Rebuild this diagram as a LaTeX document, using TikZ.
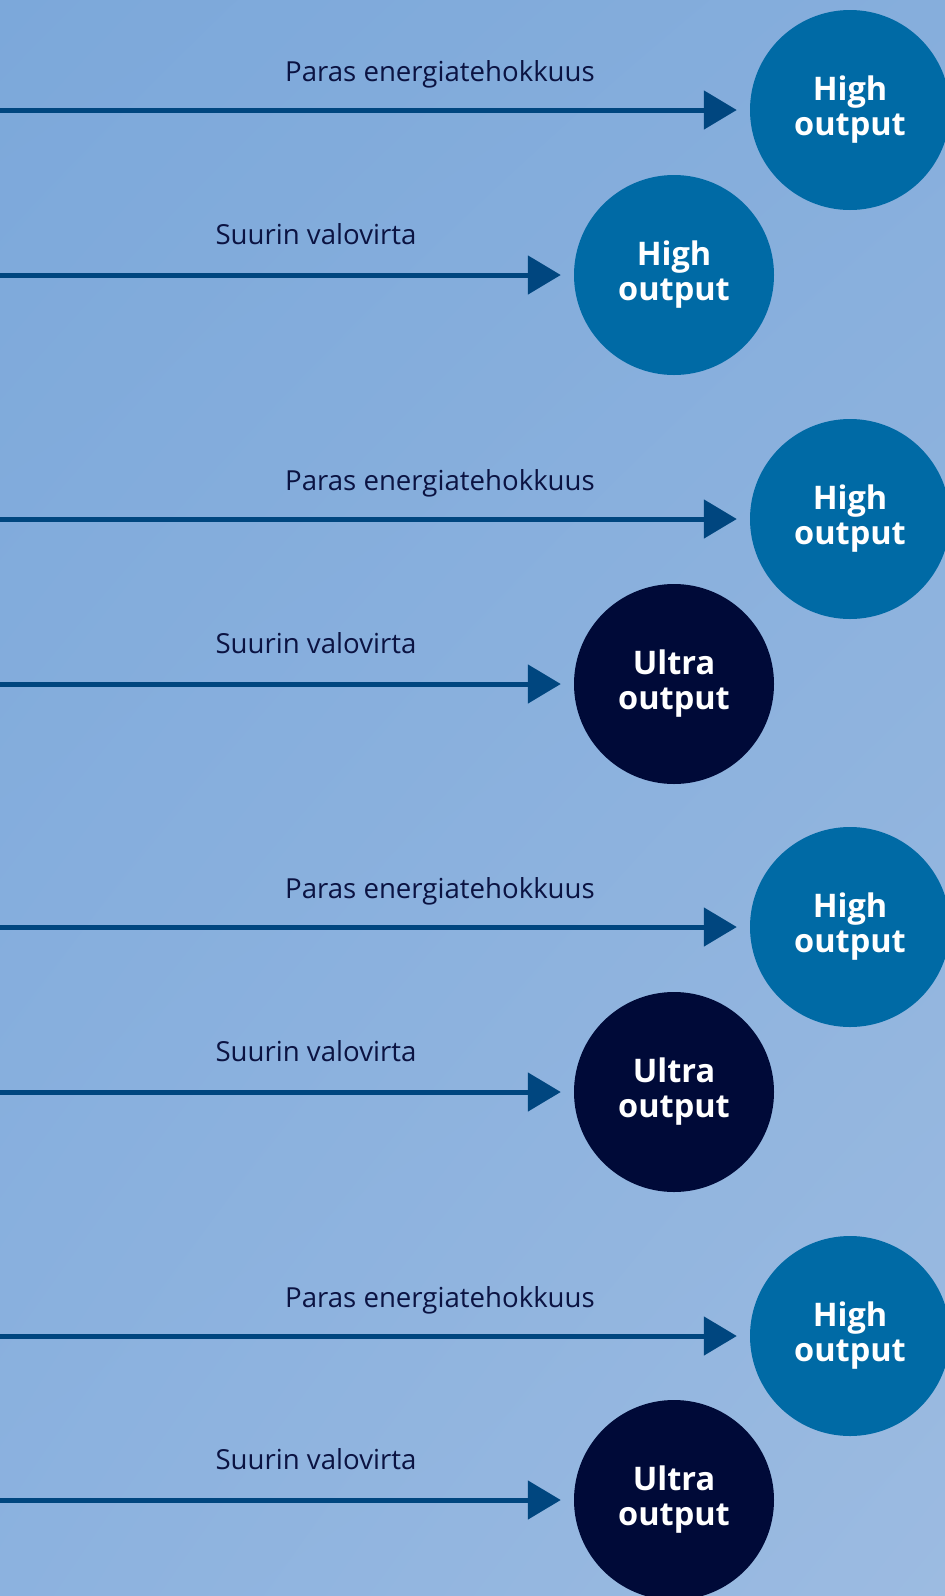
\documentclass[tikz,border=0pt]{standalone}
\usepackage{fontspec}
\setmainfont{Open Sans}
\usepackage{tikz}
\usetikzlibrary{arrows.meta,positioning,shadings}
\definecolor{bgtopleft}{HTML}{7CA8DA}
\definecolor{bgtopright}{HTML}{86AEDC}
\definecolor{bgbottomleft}{HTML}{8CB2DF}
\definecolor{bgbottomright}{HTML}{9CBBE1}
\definecolor{highcolor}{HTML}{006AA5}
\definecolor{ultracolor}{HTML}{000A38}
\definecolor{arrowcolor}{HTML}{00467F}
\definecolor{labelcolor}{HTML}{0B1342}

\begin{document}
\begin{tikzpicture}[x=1pt, y=-1pt,
    every node/.style={font=\fontsize{27.6}{32}\selectfont},
    outputdisc/.style={circle, minimum size=200pt, inner sep=0pt, text=white, align=center,
      font=\bfseries\fontsize{32.5}{35}\selectfont},
    high/.style={outputdisc, fill=highcolor},
    ultra/.style={outputdisc, fill=ultracolor},
    flow/.style={line width=5pt, draw=arrowcolor, -{Triangle[length=33pt,width=38pt]}, shorten >=13pt},
    lbl/.style={anchor=base, text=labelcolor}]
  % Background
  \useasboundingbox (0,0) rectangle (945,1596);
  \shade[upper left=bgtopleft, upper right=bgtopright, lower left=bgbottomleft, lower right=bgbottomright]
    (0,0) rectangle (945,1596);
  % Circles
  \node[high]  (eff1)  at (850,110)  {High\\output};
  \node[high]  (flux1) at (674,275)  {High\\output};
  \node[high]  (eff2)  at (850,519)  {High\\output};
  \node[ultra] (flux2) at (674,684)  {Ultra\\output};
  \node[high]  (eff3)  at (850,927)  {High\\output};
  \node[ultra] (flux3) at (674,1092) {Ultra\\output};
  \node[high]  (eff4)  at (850,1336) {High\\output};
  \node[ultra] (flux4) at (674,1500) {Ultra\\output};
  % Arrow starts
  \coordinate (effin1)  at (0,110);
  \coordinate (fluxin1) at (0,275);
  \coordinate (effin2)  at (0,519);
  \coordinate (fluxin2) at (0,684);
  \coordinate (effin3)  at (0,927);
  \coordinate (fluxin3) at (0,1092);
  \coordinate (effin4)  at (0,1336);
  \coordinate (fluxin4) at (0,1500);
  % Arrows
  \draw[flow] (effin1)  -- (eff1);
  \draw[flow] (fluxin1) -- (flux1);
  \draw[flow] (effin2)  -- (eff2);
  \draw[flow] (fluxin2) -- (flux2);
  \draw[flow] (effin3)  -- (eff3);
  \draw[flow] (fluxin3) -- (flux3);
  \draw[flow] (effin4)  -- (eff4);
  \draw[flow] (fluxin4) -- (flux4);
  % Labels
  \node[lbl] (efftxt1)  at (440,81)   {Paras energiatehokkuus};
  \node[lbl] (fluxtxt1) at (316,244)  {Suurin valovirta};
  \node[lbl] (efftxt2)  at (440,490)  {Paras energiatehokkuus};
  \node[lbl] (fluxtxt2) at (316,653)  {Suurin valovirta};
  \node[lbl] (efftxt3)  at (440,898)  {Paras energiatehokkuus};
  \node[lbl] (fluxtxt3) at (316,1061) {Suurin valovirta};
  \node[lbl] (efftxt4)  at (440,1307) {Paras energiatehokkuus};
  \node[lbl] (fluxtxt4) at (316,1469) {Suurin valovirta};
\end{tikzpicture}
\end{document}
